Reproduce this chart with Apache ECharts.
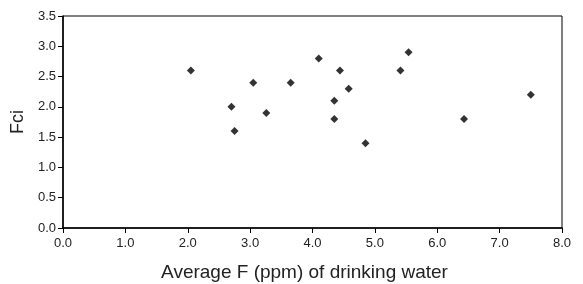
<!DOCTYPE html>
<html>
<head>
<meta charset="utf-8">
<script src="https://cdn.jsdelivr.net/npm/echarts@6/dist/echarts.min.js"></script>
<style>
html, body { margin: 0; padding: 0; background: #fff; }
#chart { width: 583px; height: 284px; }
</style>
</head>
<body>
<div id="chart"></div>
<script>
// average F (ppm) of drinking water vs Fci
var fluoride = [2.05, 2.7, 2.75, 3.05, 3.26, 3.65, 4.1, 4.44, 4.58, 4.35, 4.35, 4.85, 5.41, 5.54, 6.43, 7.5];
var fci = [2.6, 2.0, 1.6, 2.4, 1.9, 2.4, 2.8, 2.6, 2.3, 2.1, 1.8, 1.4, 2.6, 2.9, 1.8, 2.2];

var points = fluoride.map(function (x, i) { return [x, fci[i]]; });

var labelFont = { fontFamily: 'Liberation Sans', fontSize: 13, color: '#222' };

var option = {
    animation: false,
    grid: {
        left: 63,
        right: 21,
        top: 16,
        bottom: 56,
        outerBoundsMode: 'none',
        containLabel: false,
        show: true,
        borderColor: '#000',
        borderWidth: 1
    },
    xAxis: {
        type: 'value',
        min: 0,
        max: 8,
        interval: 1,
        name: 'Average F (ppm) of drinking water',
        nameLocation: 'middle',
        nameGap: 35,
        nameTextStyle: { fontFamily: 'Liberation Sans', fontSize: 19, color: '#222', padding: [0, 16, 0, 0] },
        axisLine: { show: true, lineStyle: { color: '#000', width: 1.5 } },
        axisTick: { show: true, length: 5, lineStyle: { color: '#000' } },
        axisLabel: Object.assign({
            formatter: function (v) { return v.toFixed(1); },
            margin: 9
        }, labelFont),
        splitLine: { show: false }
    },
    yAxis: {
        type: 'value',
        min: 0,
        max: 3.5,
        interval: 0.5,
        name: 'Fci',
        nameLocation: 'middle',
        nameGap: 34,
        nameTextStyle: { fontFamily: 'Liberation Sans', fontSize: 18, color: '#222' },
        axisLine: { show: true, lineStyle: { color: '#000', width: 1.5 } },
        axisTick: { show: true, length: 5, lineStyle: { color: '#000' } },
        axisLabel: Object.assign({
            formatter: function (v) { return v.toFixed(1); },
            margin: 7
        }, labelFont),
        splitLine: { show: false }
    },
    series: [
        {
            type: 'scatter',
            symbol: 'diamond',
            symbolSize: 8,
            itemStyle: { color: '#000' },
            data: points
        }
    ]
};
var myChart = echarts.init(document.getElementById('chart'));
myChart.setOption(option);
</script>
</body>
</html>
